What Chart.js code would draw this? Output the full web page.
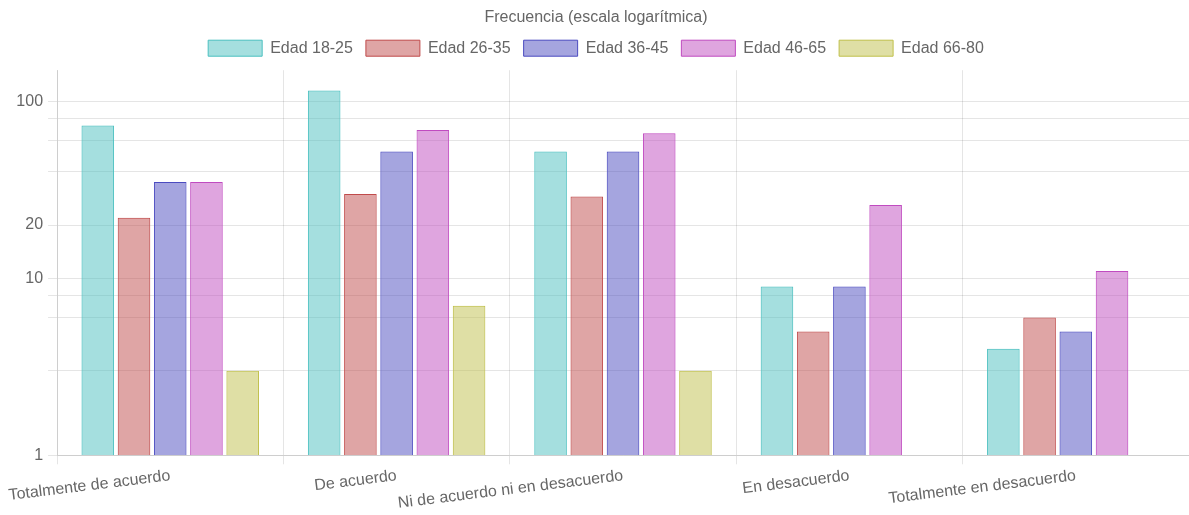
<!DOCTYPE html>
<html lang="es">
<head>
    <meta charset="UTF-8">
    <title>Frecuencia por edad</title>
    <script src="https://cdn.jsdelivr.net/npm/chart.js"></script>
    <style>
        html, body { margin: 0; padding: 0; background: #fff; }
        #wrap { width: 1189px; height: 515px; }
    </style>
</head>
<body>
    <div id="wrap"><canvas id="grafico"></canvas></div>
    <script>
        // Categorías de respuesta
        const categorias = ['Totalmente de acuerdo', 'De acuerdo', 'Ni de acuerdo ni en desacuerdo', 'En desacuerdo', 'Totalmente en desacuerdo'];

        // Frecuencias por grupo de edad
        const edad18_25 = [73, 115, 52, 9, 4];
        const edad26_35 = [22, 30, 29, 5, 6];
        const edad36_45 = [35, 52, 52, 9, 5];
        const edad46_65 = [35, 69, 66, 26, 11];
        const edad66_80 = [3, 7, 3, 0, 0];

        // Marcas del eje logarítmico
        const lineasY = [1, 3, 6, 8, 10, 20, 40, 60, 80, 100];
        const etiquetasY = [1, 10, 20, 100];

        Chart.defaults.font.family = "'Liberation Sans', Arial, sans-serif";
        Chart.defaults.font.size = 16;
        Chart.defaults.color = '#666';

        // un poco más de aire bajo la leyenda
        const margenLeyenda = {
            id: 'margenLeyenda',
            beforeLayout(chart) {
                const ley = chart.legend;
                if (ley && !ley._conMargen) {
                    const fitOriginal = ley.fit;
                    ley.fit = function () {
                        fitOriginal.call(this);
                        this.height += 4;
                    };
                    ley._conMargen = true;
                }
            }
        };

        new Chart(document.getElementById('grafico'), {
            type: 'bar',
            data: {
                labels: categorias,
                datasets: [
                    { label: 'Edad 18-25', data: edad18_25, backgroundColor: 'rgba(75, 192, 192, 0.5)', borderColor: 'rgba(75, 192, 192, 1)', borderWidth: 1 },
                    { label: 'Edad 26-35', data: edad26_35, backgroundColor: 'rgba(192, 75, 75, 0.5)', borderColor: 'rgba(192, 75, 75, 1)', borderWidth: 1 },
                    { label: 'Edad 36-45', data: edad36_45, backgroundColor: 'rgba(75, 75, 192, 0.5)', borderColor: 'rgba(75, 75, 192, 1)', borderWidth: 1 },
                    { label: 'Edad 46-65', data: edad46_65, backgroundColor: 'rgba(192, 75, 192, 0.5)', borderColor: 'rgba(192, 75, 192, 1)', borderWidth: 1 },
                    { label: 'Edad 66-80', data: edad66_80, backgroundColor: 'rgba(192, 192, 75, 0.5)', borderColor: 'rgba(192, 192, 75, 1)', borderWidth: 1 }
                ]
            },
            options: {
                responsive: true,
                maintainAspectRatio: false,
                animation: false,
                layout: { padding: { left: 3 } },
                plugins: {
                    title: {
                        display: true,
                        text: 'Frecuencia (escala logarítmica)',
                        font: { size: 16, weight: 'normal' },
                        padding: { top: 8, bottom: 0 }
                    },
                    legend: {
                        labels: { boxWidth: 54, boxHeight: 16, padding: 13 }
                    }
                },
                scales: {
                    x: {
                        grid: { tickLength: 9 },
                        ticks: { minRotation: 7, maxRotation: 7, padding: 2 },
                        afterFit: function (escala) {
                            escala.paddingLeft += 2;
                        }
                    },
                    y: {
                        type: 'logarithmic',
                        min: 1,
                        max: 150,
                        grid: { tickLength: 9 },
                        afterBuildTicks: function (escala) {
                            escala.ticks = escala.ticks.filter(t => lineasY.includes(t.value));
                        },
                        ticks: {
                            autoSkip: false,
                            padding: 5,
                            callback: function (valor) {
                                return etiquetasY.includes(valor) ? String(valor) : '';
                            }
                        }
                    }
                }
            },
            plugins: [margenLeyenda]
        });
    </script>
</body>
</html>
